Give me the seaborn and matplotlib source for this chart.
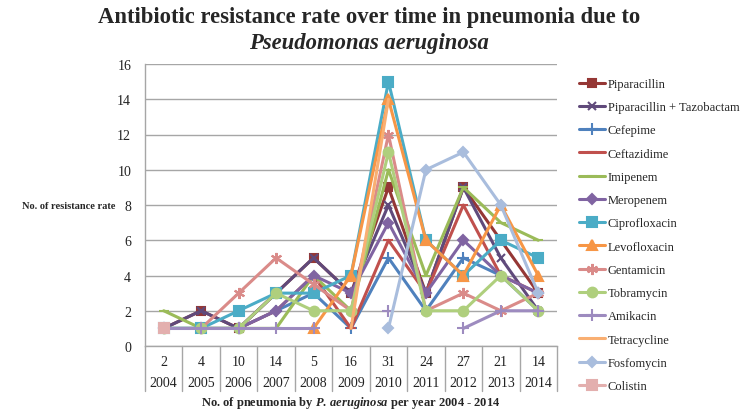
import numpy as np
import pandas as pd
import matplotlib
matplotlib.use('Agg')
import matplotlib.pyplot as plt
import seaborn as sns
from matplotlib.lines import Line2D

nan = np.nan

years = ['2004', '2005', '2006', '2007', '2008', '2009', '2010', '2011', '2012', '2013', '2014']
cases = ['2', '4', '10', '14', '5', '16', '31', '24', '27', '21', '14']

piparacillin = [1, 2, 1, 3, 5, 3, 9, 3, 9, 6, 3]
pip_tazo = [1, 2, 1, 3, 5, 3, 8, 3, 9, 5, 2]
cefepime = [1, 1, 1, 2, 3, 1, 5, 2, 5, 4, 2]
ceftazidime = [nan, nan, 1, 2, 4, 1, 6, 3, 8, 4, 3]
imipenem = [2, 1, 1, 1, 4, 2, 10, 4, 9, 7, 6]
meropenem = [1, 1, 1, 2, 4, 3, 7, 3, 6, 4, 3]
ciprofloxacin = [1, 1, 2, 3, 3, 4, 15, 6, 4, 6, 5]
levofloxacin = [nan, nan, nan, nan, 1, 4, 14, 6, 4, 8, 4]
gentamicin = [nan, 1, 3, 5, 3.5, 2, 12, 2, 3, 2, 3]
tobramycin = [1, 1, 1, 3, 2, 2, 11, 2, 2, 4, 2]
amikacin = [1, 1, 1, 1, 1, nan, 2, nan, 1, 2, 2]
tetracycline = [nan, nan, nan, nan, nan, 1, 14, nan, nan, nan, nan]
fosfomycin = [nan, nan, nan, nan, nan, nan, 1, 10, 11, 8, 3]
colistin = [1, nan, nan, nan, nan, nan, nan, nan, nan, nan, nan]

series = [
    ('Piparacillin', piparacillin, '#953735', 's', 6),
    ('Piparacillin + Tazobactam', pip_tazo, '#604A7B', 'x', 6),
    ('Cefepime', cefepime, '#4F81BD', '+', 8),
    ('Ceftazidime', ceftazidime, '#C0504D', '_', 7),
    ('Imipenem', imipenem, '#9BBB59', '_', 7),
    ('Meropenem', meropenem, '#8064A2', 'D', 5),
    ('Ciprofloxacin', ciprofloxacin, '#4BACC6', 's', 7),
    ('Levofloxacin', levofloxacin, '#F79646', '^', 7),
    ('Gentamicin', gentamicin, '#DA8B89', (6, 2, 0), 8),
    ('Tobramycin', tobramycin, '#AFCF7D', 'o', 7),
    ('Amikacin', amikacin, '#9D8BBF', '+', 8),
    ('Tetracycline', tetracycline, '#F9AF72', None, 0),
    ('Fosfomycin', fosfomycin, '#A9BDDD', 'D', 5),
    ('Colistin', colistin, '#E3AFAE', 's', 7),
]

sns.set_style('white')
plt.rcParams['font.family'] = ['Liberation Serif', 'DejaVu Serif']
plt.rcParams['mathtext.fontset'] = 'custom'
plt.rcParams['mathtext.rm'] = 'Liberation Serif:bold'
plt.rcParams['mathtext.bf'] = 'Liberation Serif:bold'
plt.rcParams['mathtext.it'] = 'Liberation Serif:bold:italic'
plt.rcParams['mathtext.bfit'] = 'Liberation Serif:bold:italic'

fig = plt.figure(figsize=(7.41, 4.10), dpi=100)
ax = fig.add_axes([145 / 741, 63 / 410, 412 / 741, 282 / 410])

xs = np.arange(len(years))
handles = []
for name, vals, color, marker, ms in series:
    vals = np.array(vals, dtype=float)
    # split into runs of valid values so gaps stay as gaps
    seg = []
    for i, v in enumerate(list(vals) + [nan]):
        if not np.isnan(v):
            seg.append(i)
        elif seg:
            df = pd.DataFrame({'x': xs[seg], 'y': vals[seg]})
            sns.lineplot(data=df, x='x', y='y', ax=ax, color=color, linewidth=2.2,
                         marker=marker, markersize=ms, markeredgecolor=color,
                         markeredgewidth=1.5, zorder=3)
            seg = []
    handles.append(Line2D([0], [0], color=color, linewidth=2.2, marker=marker,
                          markersize=ms, markeredgecolor=color, markeredgewidth=1.5))

ax.set_xlim(-0.5, len(years) - 0.5)
ax.set_ylim(0, 16)
ax.set_yticks(range(0, 17, 2))
ax.set_xticks([])
ax.set_xlabel('')
ax.set_ylabel('')
ax.grid(axis='y', color='#A6A6A6', linewidth=1)
ax.set_axisbelow(True)
for s in ['top', 'right']:
    ax.spines[s].set_visible(False)
for s in ['left', 'bottom']:
    ax.spines[s].set_color('#A6A6A6')
    ax.spines[s].set_linewidth(1)
ax.tick_params(axis='y', length=4, color='#A6A6A6', labelsize=10, labelcolor='#222222', pad=6)

# two-level category axis
trans = matplotlib.transforms.blended_transform_factory(ax.transData, ax.transAxes)
for i in range(len(years)):
    ax.text(i, -0.055, cases[i], transform=trans, ha='center', va='center', fontsize=10, color='#222222')
    ax.text(i, -0.128, years[i], transform=trans, ha='center', va='center', fontsize=10, color='#222222')
for b in np.arange(-0.5, len(years), 1.0):
    ax.plot([b, b], [0, -0.16], transform=trans, color='#A6A6A6', linewidth=1, clip_on=False)

fig.text(351 / 741, 1 - 403 / 410,
         r'No. of pneumonia by $\mathit{P.\,aeruginosa}$ per year 2004 - 2014',
         ha='center', va='center', fontsize=9, fontweight='bold')
fig.text(22 / 741, 1 - 207 / 410, 'No. of resistance rate', ha='left', va='center',
         fontsize=7.5, fontweight='bold')

fig.text(369 / 741, 1 - 18 / 410, 'Antibiotic resistance rate over time in pneumonia due to',
         ha='center', va='center', fontsize=16.3, fontweight='bold')
fig.text(369 / 741, 1 - 44 / 410, 'Pseudomonas aeruginosa',
         ha='center', va='center', fontsize=16.3, fontstyle='italic', fontweight='bold')

fig.legend(handles, [s[0] for s in series], loc='upper left',
           bbox_to_anchor=(574 / 741, 1 - 74 / 410), frameon=False, fontsize=9,
           handlelength=2.1, handletextpad=0.2, labelspacing=0.9, borderaxespad=0)

fig.savefig('out.png', dpi=100)
